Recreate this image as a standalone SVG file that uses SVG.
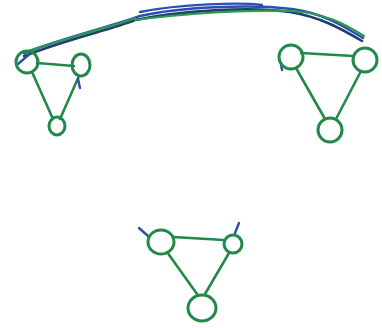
<svg xmlns="http://www.w3.org/2000/svg" width="382" height="328" viewBox="0 0 382 328">
<style>
.n{fill:none;stroke:#23894a;stroke-width:3;stroke-linecap:round}
.e{fill:none;stroke:#23894a;stroke-width:2.6;stroke-linecap:round}
.b{fill:none;stroke:#2a4fb0;stroke-width:2.4;stroke-linecap:round}
.g{fill:none;stroke:#2a9a55;stroke-width:2.2;stroke-linecap:round}
.d{fill:none;stroke:#1f3f6a;stroke-width:2.6;stroke-linecap:round}
</style>
<rect width="382" height="328" fill="#ffffff"/>
<g id="connectors">
<line class="e" x1="37" y1="63" x2="74" y2="66"/>
<line class="e" x1="32" y1="72" x2="53" y2="119"/>
<line class="e" x1="79" y1="76" x2="60" y2="119"/>
<line class="e" x1="301" y1="53" x2="353" y2="56"/>
<line class="e" x1="296" y1="68" x2="325" y2="119"/>
<line class="e" x1="361" y1="71" x2="336" y2="119"/>
<line class="e" x1="173" y1="237" x2="224" y2="240"/>
<line class="e" x1="167" y1="252" x2="197" y2="294"/>
<line class="e" x1="229" y1="253" x2="205" y2="294"/>
<path class="d" d="M 24 56 C 70 38, 110 30, 135 20 C 180 11, 250 6, 290 12 C 320 17, 340 28, 362 41"/>
<path class="b" d="M 24 53 C 70 36, 110 27, 140 16 C 180 7, 250 4, 292 9 C 322 13, 342 25, 363 38"/>
<path class="g" d="M 135 20 C 180 14, 250 9, 292 11 C 325 13, 345 24, 364 36"/>
<path class="b" d="M 140 12 C 180 4, 240 2, 262 5"/>
<path class="g" d="M 26 52 C 70 36, 110 28, 135 18"/>
<line class="b" x1="18" y1="64" x2="32" y2="52"/>
<line class="b" x1="78" y1="79" x2="80" y2="88"/>
<line class="b" x1="281" y1="64" x2="282" y2="70"/>
<line class="b" x1="139" y1="228" x2="148" y2="236"/>
<line class="b" x1="239" y1="223" x2="235" y2="233"/>
</g>
<g id="nodeA"><circle class="n" cx="27" cy="62" r="11"/></g>
<g id="nodeB"><ellipse class="n" cx="81" cy="65" rx="9" ry="11"/></g>
<g id="nodeC"><ellipse class="n" cx="57" cy="126" rx="8" ry="9"/></g>
<g id="nodeD"><circle class="n" cx="291" cy="57" r="12"/></g>
<g id="nodeE"><circle class="n" cx="365" cy="60" r="12"/></g>
<g id="nodeF"><circle class="n" cx="330" cy="130" r="12"/></g>
<g id="nodeG"><ellipse class="n" cx="161" cy="242" rx="13" ry="12"/></g>
<g id="nodeH"><circle class="n" cx="233" cy="244" r="9"/></g>
<g id="nodeI"><ellipse class="n" cx="202" cy="308" rx="14" ry="13"/></g>
</svg>
